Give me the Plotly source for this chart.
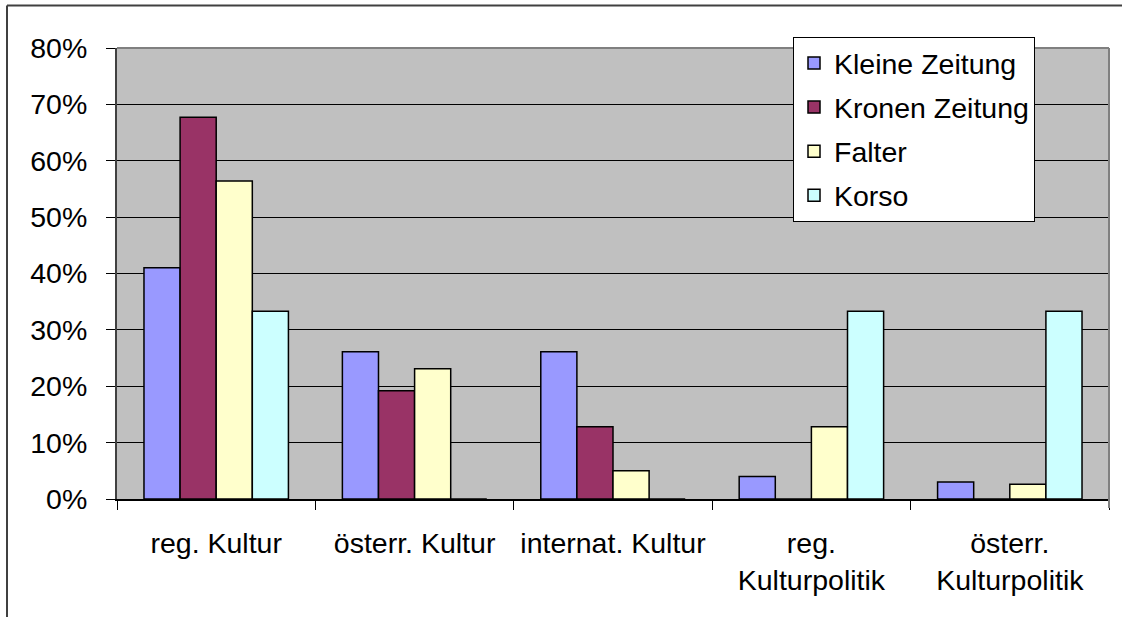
import plotly.graph_objects as go

categories = ["reg. Kultur", "österr. Kultur", "internat. Kultur", "reg.<br>Kulturpolitik", "österr.<br>Kulturpolitik"]
kleine = [41.0, 26.1, 26.1, 4.0, 3.0]
kronen = [67.7, 19.2, 12.8, 0, 0]
falter = [56.4, 23.1, 5.0, 12.8, 2.6]
korso = [33.3, 0, 0, 33.3, 33.3]
series_names = ["Kleine Zeitung", "Kronen Zeitung", "Falter", "Korso"]
series_values = [kleine, kronen, falter, korso]
colors = ["#9999FF", "#993366", "#FFFFCC", "#CCFFFF"]
y_ticks = [0, 10, 20, 30, 40, 50, 60, 70, 80]
y_tick_labels = ["0%", "10%", "20%", "30%", "40%", "50%", "60%", "70%", "80%"]

FONT = "Liberation Sans, Arial, sans-serif"
FS = 28.5

fig = go.Figure()
for i, (name, vals, col) in enumerate(zip(series_names, series_values, colors)):
    fig.add_trace(go.Bar(
        x=categories, y=vals, name=name, legendgroup=f"g{i}",
        marker=dict(color=col, line=dict(color="black", width=1.5)),
    ))

W, H = 1122, 617
L, R, T, B = 117, 13, 48, 118
pw, ph = W - L - R, H - T - B

def px_x(x):
    return (x - L) / pw

def px_y(y):
    return (H - B - y) / ph

fig.update_layout(
    width=W, height=H,
    margin=dict(l=L, r=R, t=T, b=B),
    paper_bgcolor="white",
    plot_bgcolor="#C0C0C0",
    barmode="group",
    bargap=0.272,
    bargroupgap=0,
    font=dict(family=FONT, size=FS, color="black"),
    showlegend=True,
    legend=dict(
        x=px_x(793), y=px_y(37), xanchor="left", yanchor="top",
        bgcolor="white", bordercolor="black", borderwidth=1,
        font=dict(family=FONT, size=FS, color="black"),
        tracegroupgap=4,
    ),
    xaxis=dict(
        type="category",
        showgrid=False, zeroline=False,
        showline=True, linecolor="black", linewidth=1.5,
        ticks="outside", tickson="boundaries", ticklen=9, tickcolor="black",
        tickfont=dict(family=FONT, size=FS, color="black"),
        ticklabelstandoff=18,
    ),
    yaxis=dict(
        range=[0, 80], tickmode="array", tickvals=y_ticks, ticktext=y_tick_labels,
        showgrid=True, gridcolor="black", gridwidth=1,
        zeroline=False,
        showline=True, linecolor="#404040", linewidth=2,
        ticks="outside", ticklen=9, tickcolor="black",
        tickfont=dict(family=FONT, size=FS, color="black"),
        ticklabelstandoff=13,
    ),
    shapes=[
        dict(type="line", xref="paper", yref="paper", x0=0, x1=1, y0=1, y1=1,
             line=dict(color="#808080", width=2)),
        dict(type="line", xref="paper", yref="paper", x0=1, x1=1, y0=px_y(508), y1=1,
             line=dict(color="#808080", width=2)),
        dict(type="line", xref="paper", yref="paper", x0=px_x(7), x1=px_x(1130), y0=px_y(5.5), y1=px_y(5.5),
             line=dict(color="#404040", width=2)),
        dict(type="line", xref="paper", yref="paper", x0=px_x(7), x1=px_x(7), y0=px_y(5.5), y1=px_y(630),
             line=dict(color="#404040", width=2)),
    ],
)

fig.write_html(
    "out.html",
    config={"displayModeBar": False},
    post_script="document.body.style.margin='0';document.body.style.overflow='hidden';",
)
